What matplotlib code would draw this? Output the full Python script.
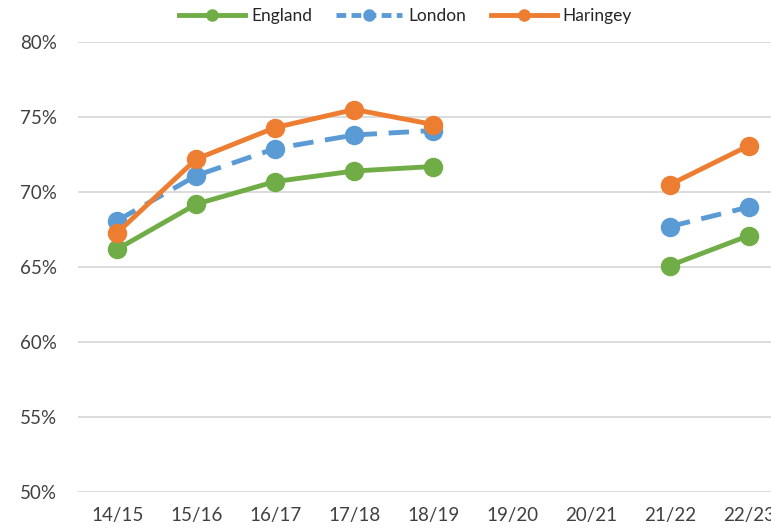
import numpy as np
import matplotlib
matplotlib.use("Agg")
import matplotlib.pyplot as plt
from matplotlib.lines import Line2D
from matplotlib.ticker import FuncFormatter

years = ["14/15", "15/16", "16/17", "17/18", "18/19", "19/20", "20/21", "21/22", "22/23"]
england = [66.2, 69.2, 70.7, 71.4, 71.7, np.nan, np.nan, 65.1, 67.1]
london = [68.1, 71.1, 72.9, 73.8, 74.1, np.nan, np.nan, 67.7, 69.0]
haringey = [67.3, 72.2, 74.3, 75.5, 74.5, np.nan, np.nan, 70.5, 73.1]

series_names = ["England", "London", "Haringey"]
colors = {"England": "#70AD47", "London": "#5B9BD5", "Haringey": "#ED7D31"}

plt.rcParams["font.family"] = ["Lato", "DejaVu Sans"]

fig = plt.figure(figsize=(7.71, 5.32), dpi=100)
ax = fig.add_axes([78 / 771, 40 / 532, (788.5 - 78) / 771, 450 / 532])

x = np.arange(len(years))
lw = 3.5
ms = 13
ax.plot(x, england, color=colors["England"], lw=lw, marker="o", ms=ms, zorder=3)
ax.plot(x, london, color=colors["London"], lw=lw, marker="o", ms=ms,
        dashes=(4.2, 2.4), zorder=2)
ax.plot(x, haringey, color=colors["Haringey"], lw=lw, marker="o", ms=ms, zorder=4)

ax.set_xlim(-0.5, len(years) - 0.5)
ax.set_ylim(50, 80)
ax.set_yticks(np.arange(50, 81, 5))
ax.yaxis.set_major_formatter(FuncFormatter(lambda v, p: f"{v:.0f}%"))
ax.set_xticks(x)
ax.set_xticklabels(years)
ax.grid(axis="y", color="#D9D9D9", lw=1.3)
ax.set_axisbelow(True)
for s in ax.spines.values():
    s.set_visible(False)
ax.tick_params(axis="both", length=0, labelsize=13.5, colors="#404040")
ax.tick_params(axis="y", pad=15)
ax.tick_params(axis="x", pad=11)

handles = [
    Line2D([], [], color=colors["England"], lw=lw, marker="o", ms=8),
    Line2D([], [], color=colors["London"], lw=lw, marker="o", ms=8, dashes=(2.0, 1.1)),
    Line2D([], [], color=colors["Haringey"], lw=lw, marker="o", ms=8),
]
fig.legend(handles, series_names, loc="center", bbox_to_anchor=(0.526, 0.97),
           ncol=3, frameon=False, fontsize=12.5, handlelength=3.8,
           columnspacing=1.4, handletextpad=0.35, labelcolor="#262626")

fig.savefig("out.png", dpi=100)
